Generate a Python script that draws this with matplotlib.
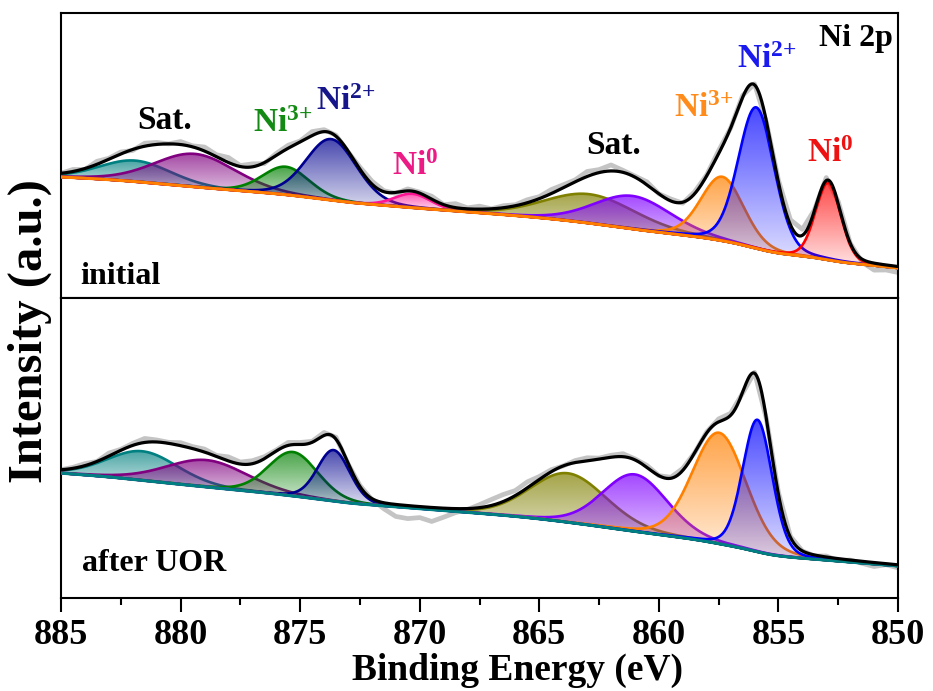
import numpy as np
import matplotlib
matplotlib.use("Agg")
import matplotlib.pyplot as plt
from matplotlib.ticker import MultipleLocator
from matplotlib.colors import to_rgb

plt.rcParams["font.family"] = ["Liberation Serif", "DejaVu Serif"]
plt.rcParams["font.weight"] = "bold"
plt.rcParams["mathtext.fontset"] = "custom"
plt.rcParams["mathtext.rm"] = "Liberation Serif:bold"
plt.rcParams["mathtext.it"] = "Liberation Serif:bold"
plt.rcParams["mathtext.bf"] = "Liberation Serif:bold"

# fitted components: centre (eV), height (a.u.), fwhm (eV)
init_colors = ["#008080", "#800080", "#008000", "#000090", "#ff1493",
               "#808000", "#8000ff", "#ff8000", "#0000ff", "#ff0000"]
init_centers = [881.9, 879.4, 875.6, 873.7, 870.3, 862.9, 861.1, 857.35, 855.93, 852.92]
init_heights = [21, 33, 28, 61, 14, 29, 33, 64, 141, 77]
init_fwhm = [3.5, 4.0, 2.3, 2.5, 1.8, 4.5, 3.8, 2.1, 1.77, 1.25]

uor_colors = ["#008080", "#800080", "#008000", "#000090",
              "#808000", "#8000ff", "#ff8000", "#0000ff"]
uor_centers = [881.6, 878.9, 875.3, 873.6, 863.8, 861.0, 857.48, 855.88]
uor_heights = [29, 27, 44, 51, 49, 57, 111, 132]
uor_fwhm = [3.5, 4.0, 2.44, 1.6, 3.76, 3.2, 2.65, 1.45]

# background: value at 850 eV, slope, curvature, shirley step
init_bg = [30, 2.35, -0.019, 32]
uor_bg = [32, 1.9, -0.003, 30]

# raw-data deviation from the fit envelope, every 0.5 eV from 850 to 885 eV
init_noise = [-6, -5, -7, -3, 0, 2, 3, 1, 6, 5,
              2, -1, 1, 2, 0, 3, 1, 2, -1, 2,
              0, 3, 1, 2, 6, 3, 5, 2, 3, 4,
              2, 3, 1, 2, 0, 3, 1, 4, 0, 3,
              1, 2, -1, 1, 3, 2, -1, 1, 2, 4,
              1, 3, 2, -1, 3, 1, 5, 2, 4, 1,
              3, 0, 2, 3, -1, 2, 1, 3, -1, 2,
              0]
uor_noise = [-3, -1, -4, -2, 0, -2, 1, -1, 0, 1,
             2, 0, 1, -1, 2, 3, 1, 0, 2, 1,
             0, 2, 1, 3, 2, 1, 3, 2, 0, 2,
             3, 6, 5, 7, 6, 3, -1, -4, -9, -14,
             -11, -13, -12, -6, -1, 1, -1, 2, 3, 1,
             2, 3, 1, 2, 3, 2, 4, 1, 3, 2,
             3, 1, 2, 4, 2, 1, 3, 0, 2, 1,
             0]

energy = np.linspace(850, 885, 1401)   # 0.025 eV steps, raw points every 20th


def pseudo_voigt(x, c, h, w, eta=0.15):
    g = np.exp(-4 * np.log(2) * ((x - c) / w) ** 2)
    l = 1 / (1 + 4 * ((x - c) / w) ** 2)
    return h * ((1 - eta) * g + eta * l)


def gradient_fill(ax, x, base, top, color, z):
    poly = ax.fill_between(x, base, top, facecolor="none", edgecolor="none")
    keep = (top - base) > 0.3
    rgb = to_rgb(color)
    img = np.zeros((256, 2, 4))
    img[..., :3] = rgb
    img[..., 3] = np.linspace(0.1, 0.72, 256)[:, None]
    im = ax.imshow(img, extent=[x[keep].min(), x[keep].max(), base[keep].min(), top[keep].max()],
                   origin="lower", aspect="auto", interpolation="bilinear", zorder=z)
    im.set_clip_path(poly.get_paths()[0], transform=ax.transData)


def draw_panel(ax, colors, centers, heights, widths, bg_par, noise, bg_color, ymax):
    comps = np.array([pseudo_voigt(energy, c, h, w) for c, h, w in zip(centers, heights, widths)])
    total = comps.sum(axis=0)
    frac = np.cumsum(total) / np.sum(total)
    d = energy - 850
    bg = bg_par[0] + bg_par[1] * d + bg_par[2] * d ** 2 + bg_par[3] * frac
    env = bg + total

    raw_x = energy[::20]
    raw_y = env[::20] + np.array(noise)
    ax.plot(raw_x, raw_y, color="#c4c4c4", lw=3.4, zorder=1)

    for i, (comp, col) in enumerate(zip(comps, colors)):
        gradient_fill(ax, energy, bg, bg + comp, col, 2 + 2 * i)
        ax.plot(energy, bg + comp, color=col, lw=1.9, zorder=3 + 2 * i)

    ax.plot(energy, bg, color=bg_color, lw=2.2, zorder=40)
    ax.plot(energy, env, color="black", lw=2.3, zorder=41)

    ax.set_xlim(885, 850)
    ax.set_ylim(0, ymax)
    ax.set_yticks([])
    for s in ax.spines.values():
        s.set_linewidth(1.5)


fig = plt.figure(figsize=(9.33, 6.91), dpi=100)
ax1 = fig.add_axes([0.0654, 0.5687, 0.8971, 0.4125])
ax2 = fig.add_axes([0.0654, 0.1346, 0.8971, 0.4342])

draw_panel(ax1, init_colors, init_centers, init_heights, init_fwhm, init_bg, init_noise, "#ff8000", 285)
draw_panel(ax2, uor_colors, uor_centers, uor_heights, uor_fwhm, uor_bg, uor_noise, "#008080", 300)

ax1.tick_params(bottom=False, labelbottom=False, left=False)
ax2.xaxis.set_major_locator(MultipleLocator(5))
ax2.xaxis.set_minor_locator(MultipleLocator(2.5))
ax2.tick_params(axis="x", which="major", direction="out", length=10, width=1.5,
                labelsize=26, pad=5, labelfontfamily="Liberation Serif")
ax2.tick_params(axis="x", which="minor", direction="out", length=5, width=1.5)
ax2.tick_params(left=False)

# peak labels
ax1.text(880.65, 178, "Sat.", fontsize=24, ha="center", va="center", color="black")
ax1.text(875.72, 174.5, r"Ni$^{3{+}}$", fontsize=24, ha="center", va="center", color="#138a13")
ax1.text(873.08, 196.5, r"Ni$^{2{+}}$", fontsize=24, ha="center", va="center", color="#16168a")
ax1.text(870.2, 131.5, r"Ni$^{0}$", fontsize=24, ha="center", va="center", color="#ec1a85")
ax1.text(861.9, 152.5, "Sat.", fontsize=24, ha="center", va="center", color="black")
ax1.text(858.11, 189.5, r"Ni$^{3{+}}$", fontsize=24, ha="center", va="center", color="#ff8c1a")
ax1.text(855.5, 238, r"Ni$^{2{+}}$", fontsize=24, ha="center", va="center", color="#1a1aee")
ax1.text(852.82, 144.5, r"Ni$^{0}$", fontsize=24, ha="center", va="center", color="#ee1111")
ax1.text(850.2, 259.5, "Ni 2p", fontsize=23, ha="right", va="center", color="black")
ax1.text(884.2, 22, "initial", fontsize=23, ha="left", va="center")
ax2.text(884.12, 34, "after UOR", fontsize=23, ha="left", va="center")

fig.text(518 / 933, 1 - 670 / 691, "Binding Energy (eV)", fontsize=27, ha="center", va="center")
fig.text(30 / 933, 1 - 331.5 / 691, "Intensity (a.u.)", fontsize=35, rotation=90,
         ha="center", va="center")

fig.savefig("out.png", dpi=100)
